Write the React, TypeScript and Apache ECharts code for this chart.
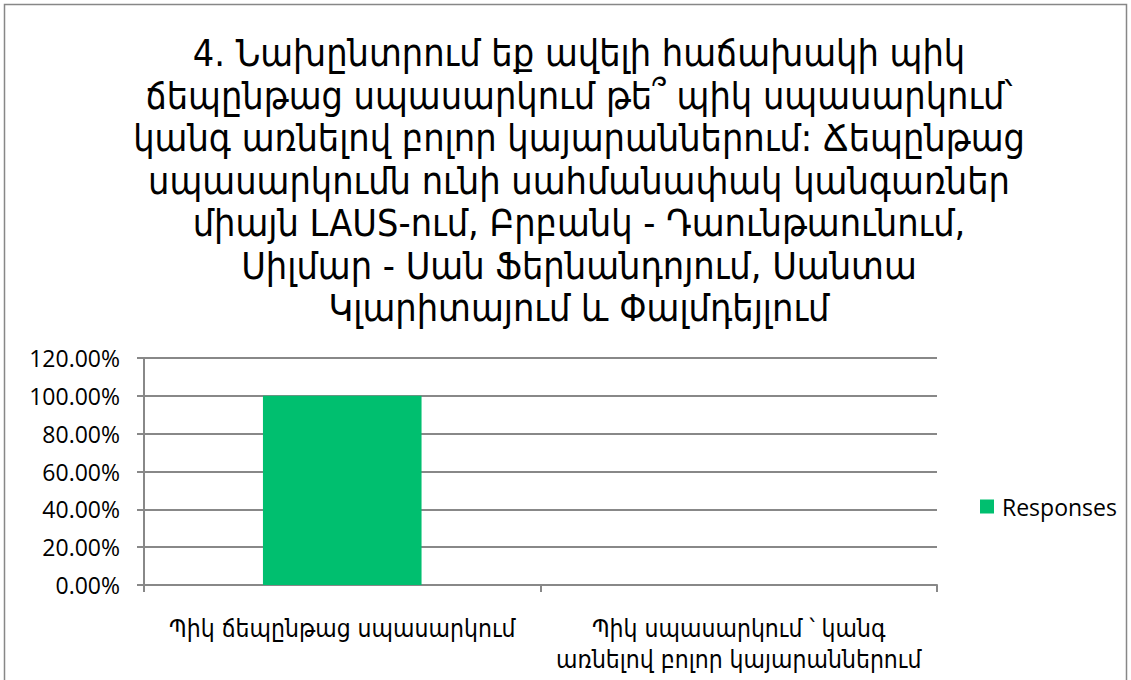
import React, { useEffect, useRef } from "react";
import * as echarts from "echarts";

const titleLines = [
  "4. Նախընտրում եք ավելի հաճախակի պիկ",
  "ճեպընթաց սպասարկում թե՞ պիկ սպասարկում՝",
  "կանգ առնելով բոլոր կայարաններում: Ճեպընթաց",
  "սպասարկումն ունի սահմանափակ կանգառներ",
  "միայն LAUS-ում, Բրբանկ - Դաունթաունում,",
  "Սիլմար - Սան Ֆերնանդոյում, Սանտա",
  "Կլարիտայում և Փալմդեյլում",
];
const categories = [
  "Պիկ ճեպընթաց սպասարկում",
  "Պիկ սպասարկում ՝ կանգ\nառնելով բոլոր կայարաններում",
];
const seriesName = "Responses";
const responses = [1.0, 0.0];
const yMin = 0;
const yMax = 1.2;
const yInterval = 0.2;

export default function App() {
  const ref = useRef<HTMLDivElement>(null);
  useEffect(() => {
    document.body.style.margin = "0";
    const chart = echarts.init(ref.current!, null, { renderer: "svg" });
    const armenian = "'DejaVu Sans Condensed', 'DejaVu Sans', sans-serif";
    const latin = "'Open Sans', 'Noto Sans', sans-serif";
    chart.setOption({
      animation: false,
      backgroundColor: "#ffffff",
      title: {
        text: titleLines.join("\n"),
        left: 574,
        top: 27,
        textAlign: "center",
        textStyle: {
          fontFamily: armenian,
          fontSize: 37.5,
          fontWeight: "normal",
          lineHeight: 42.5,
          color: "#000",
        },
      },
      legend: {
        data: [seriesName],
        left: 975,
        top: 490,
        orient: "vertical",
        icon: "rect",
        itemWidth: 14,
        itemHeight: 14,
        itemGap: 9,
        textStyle: { fontFamily: latin, fontSize: 23, color: "#000", padding: [0, 0, 0, 3] },
      },
      graphic: [
        {
          type: "rect",
          shape: { x: 4.5, y: 4.5, width: 1122, height: 720 },
          style: { fill: "none", stroke: "#878787", lineWidth: 1.5 },
          silent: true,
        },
      ],
      grid: { left: 144, right: 194, top: 358, bottom: 95, containLabel: false },
      xAxis: {
        type: "category",
        data: categories,
        axisLine: { show: true, lineStyle: { color: "#888", width: 2 } },
        axisTick: { show: true, length: 7, alignWithLabel: false, lineStyle: { color: "#888", width: 2 } },
        axisLabel: {
          interval: 0,
          margin: 28,
          fontFamily: armenian,
          fontSize: 24.5,
          lineHeight: 31,
          color: "#000",
          align: "center",
        },
        splitLine: { show: false },
      },
      yAxis: {
        type: "value",
        min: yMin,
        max: yMax,
        interval: yInterval,
        axisLine: { show: true, lineStyle: { color: "#888", width: 2 } },
        axisTick: { show: true, length: 7, lineStyle: { color: "#888", width: 2 } },
        axisLabel: {
          margin: 24,
          fontFamily: latin,
          fontSize: 23,
          color: "#000",
          formatter: (v: number) => (v * 100).toFixed(2) + "%",
        },
        splitLine: { show: true, lineStyle: { color: "#888", width: 2 } },
      },
      series: [
        {
          name: seriesName,
          type: "bar",
          data: responses,
          barWidth: "40%",
          itemStyle: { color: "#00BF6F" },
        },
      ],
    });
    return () => chart.dispose();
  }, []);
  return <div ref={ref} style={{ width: 1131, height: 680 }} />;
}
